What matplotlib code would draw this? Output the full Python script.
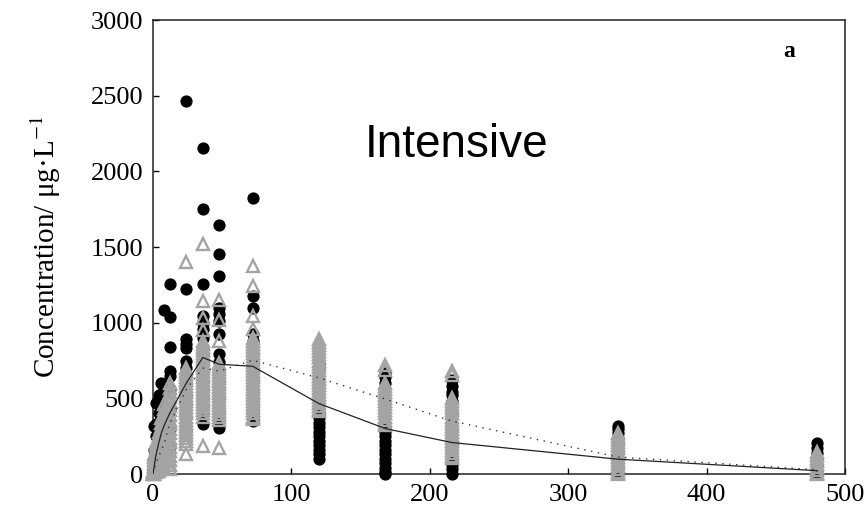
import matplotlib
matplotlib.use("Agg")
import matplotlib.pyplot as plt

# ---- data -------------------------------------------------------------
times = [0, 1, 2, 4, 6, 8, 12, 24, 36, 48, 72, 120, 168, 216, 336, 480]

# black filled circles (one list per sampling time)
circle_vals = [
    [0, 0, 5, 10, 20],
    [20, 50, 100, 160, 320],
    [40, 90, 150, 250, 330, 470],
    [60, 130, 220, 300, 400, 520],
    [100, 180, 260, 380, 470, 600],
    [120, 250, 340, 450, 560, 1085],
    [180, 300, 420, 560, 650, 680, 840, 1040, 1255],
    [2468, 1225, 890, 860, 830, 750, 700, 660, 600, 520, 460, 380, 300],
    [2156, 1750, 1258, 1047, 1000, 960, 900, 830, 790, 740, 680, 617, 560,
     500, 450, 400, 333],
    [1643, 1457, 1311, 1100, 1060, 1013, 927, 795, 740, 680, 617, 560, 500,
     417, 360, 305],
    [1821, 1179, 1100, 927, 880, 800, 740, 680, 620, 550, 500, 463, 420,
     397, 370, 351],
    [730, 700, 400, 370, 340, 310, 280, 250, 220, 190, 160, 130, 99],
    [670, 640, 600, 305, 280, 250, 220, 190, 160, 130, 100, 70, 40, 10, 0],
    [620, 580, 540, 520, 480, 400, 300, 200, 85, 60, 30, 0],
    [318, 298, 270, 240, 200, 150, 100, 50, 0],
    [205, 175, 140, 100, 60, 20, 0],
]

# grey open triangles (one list per sampling time)
tri_vals = [
    [0, 0, 5, 10, 20],
    [0, 15, 30, 50, 70, 90, 110, 130],
    [10, 30, 50, 70, 90, 110, 130, 150, 170, 190, 210],
    [20, 40, 60, 80, 100, 120, 140, 160, 180, 200, 220, 240, 260, 280],
    [30, 50, 70, 90, 110, 130, 150, 170, 190, 210, 230, 250, 270, 290, 310,
     340, 370],
    [40, 60, 80, 100, 120, 140, 160, 180, 200, 220, 240, 260, 280, 300, 320,
     340, 360, 380, 400, 430, 460],
    [30, 60, 90, 120, 150, 180, 210, 240, 270, 300, 330, 360, 390, 420, 450,
     480, 510, 540, 570, 600],
    [1404, 700, 680, 660, 640, 620, 600, 580, 560, 540, 520, 500, 480, 460,
     440, 420, 400, 380, 360, 340, 320, 300, 280, 260, 240, 220, 200, 133],
    [1523, 1142, 1030, 950, 880, 860, 840, 820, 800, 780, 760, 740, 720, 700,
     680, 660, 640, 620, 600, 580, 560, 540, 520, 500, 480, 460, 440, 420,
     400, 380, 186],
    [1150, 1020, 880, 735, 715, 695, 675, 655, 635, 615, 595, 575, 555, 535,
     515, 495, 475, 455, 435, 415, 395, 375, 357, 173],
    [1377, 1245, 1046, 960, 900, 880, 860, 840, 820, 800, 780, 760, 740, 720,
     700, 680, 660, 640, 620, 600, 580, 560, 540, 520, 500, 480, 460, 440,
     420, 400, 380, 365],
    [890, 870, 850, 830, 810, 790, 770, 750, 730, 710, 690, 670, 650, 630,
     610, 590, 570, 550, 530, 510, 490, 470, 450, 430, 415],
    [720, 690, 600, 580, 560, 540, 520, 500, 480, 460, 440, 420, 400, 380,
     360, 340, 325],
    [682, 655, 500, 480, 460, 440, 420, 400, 380, 360, 340, 320, 300, 280,
     260, 240, 220, 200, 180, 160, 140, 120, 105],
    [270, 250, 230, 210, 190, 170, 150, 130, 110, 90, 70, 50, 30, 10, 0],
    [145, 125, 105, 85, 65, 45, 25, 5, 0],
]

# mean curves
mean_times = [0, 1, 2, 4, 6, 8, 12, 24, 36, 48, 72, 120, 168, 216, 336, 480]
solid_mean = [0, 60, 120, 200, 270, 320, 400, 600, 770, 725, 712, 465, 300,
              208, 98, 22]
dotted_mean = [0, 30, 70, 110, 160, 200, 330, 560, 700, 680, 752, 635, 495,
               350, 112, 28]

x_ticks = [0, 100, 200, 300, 400, 500]
y_ticks = [0, 500, 1000, 1500, 2000, 2500, 3000]

# ---- plot ---------------------------------------------------------------
plt.rcParams["mathtext.fontset"] = "stix"
serif = ["Liberation Serif", "DejaVu Serif"]

fig = plt.figure(figsize=(8.67, 5.15), dpi=100)
ax = fig.add_axes([0.1765, 0.0796, 0.798, 0.8814])

cx, cy = [], []
for t, vals in zip(times, circle_vals):
    cx += [t] * len(vals)
    cy += vals
tx, ty = [], []
for t, vals in zip(times, tri_vals):
    tx += [t] * len(vals)
    ty += vals

ax.plot(cx, cy, linestyle="none", marker="o", markersize=7.8,
        markerfacecolor="black", markeredgecolor="black", clip_on=False,
        zorder=3)
ax.plot(tx, ty, linestyle="none", marker="^", markersize=8.8,
        markerfacecolor="none", markeredgecolor="#a4a4a4",
        markeredgewidth=1.7, clip_on=False, zorder=4)

ax.plot(mean_times, solid_mean, color="#222222", linewidth=0.9, zorder=5)
ax.plot(mean_times, dotted_mean, color="#333333", linewidth=1.0,
        linestyle=(0, (1, 4)), zorder=5)

ax.set_xlim(0, 500)
ax.set_ylim(0, 3000)
ax.set_xticks(x_ticks)
ax.set_yticks(y_ticks)
ax.tick_params(direction="in", length=4, width=1, pad=7, labelsize=19)
for lab in ax.get_xticklabels() + ax.get_yticklabels():
    lab.set_fontfamily(serif)
for s in ax.spines.values():
    s.set_linewidth(1.1)
    s.set_color("#222222")

ax.set_ylabel(r"Concentration/ μg·L$^{-1}$", fontsize=21, family=serif,
              labelpad=20)

ax.text(0.438, 0.725, "Intensive", transform=ax.transAxes,
        fontsize=33, family=["Liberation Sans", "DejaVu Sans"],
        ha="center", va="center")
ax.text(0.92, 0.93, "a", transform=ax.transAxes, fontsize=17,
        fontweight="bold", family=serif, ha="center", va="center")

fig.savefig("out.png", dpi=100)
